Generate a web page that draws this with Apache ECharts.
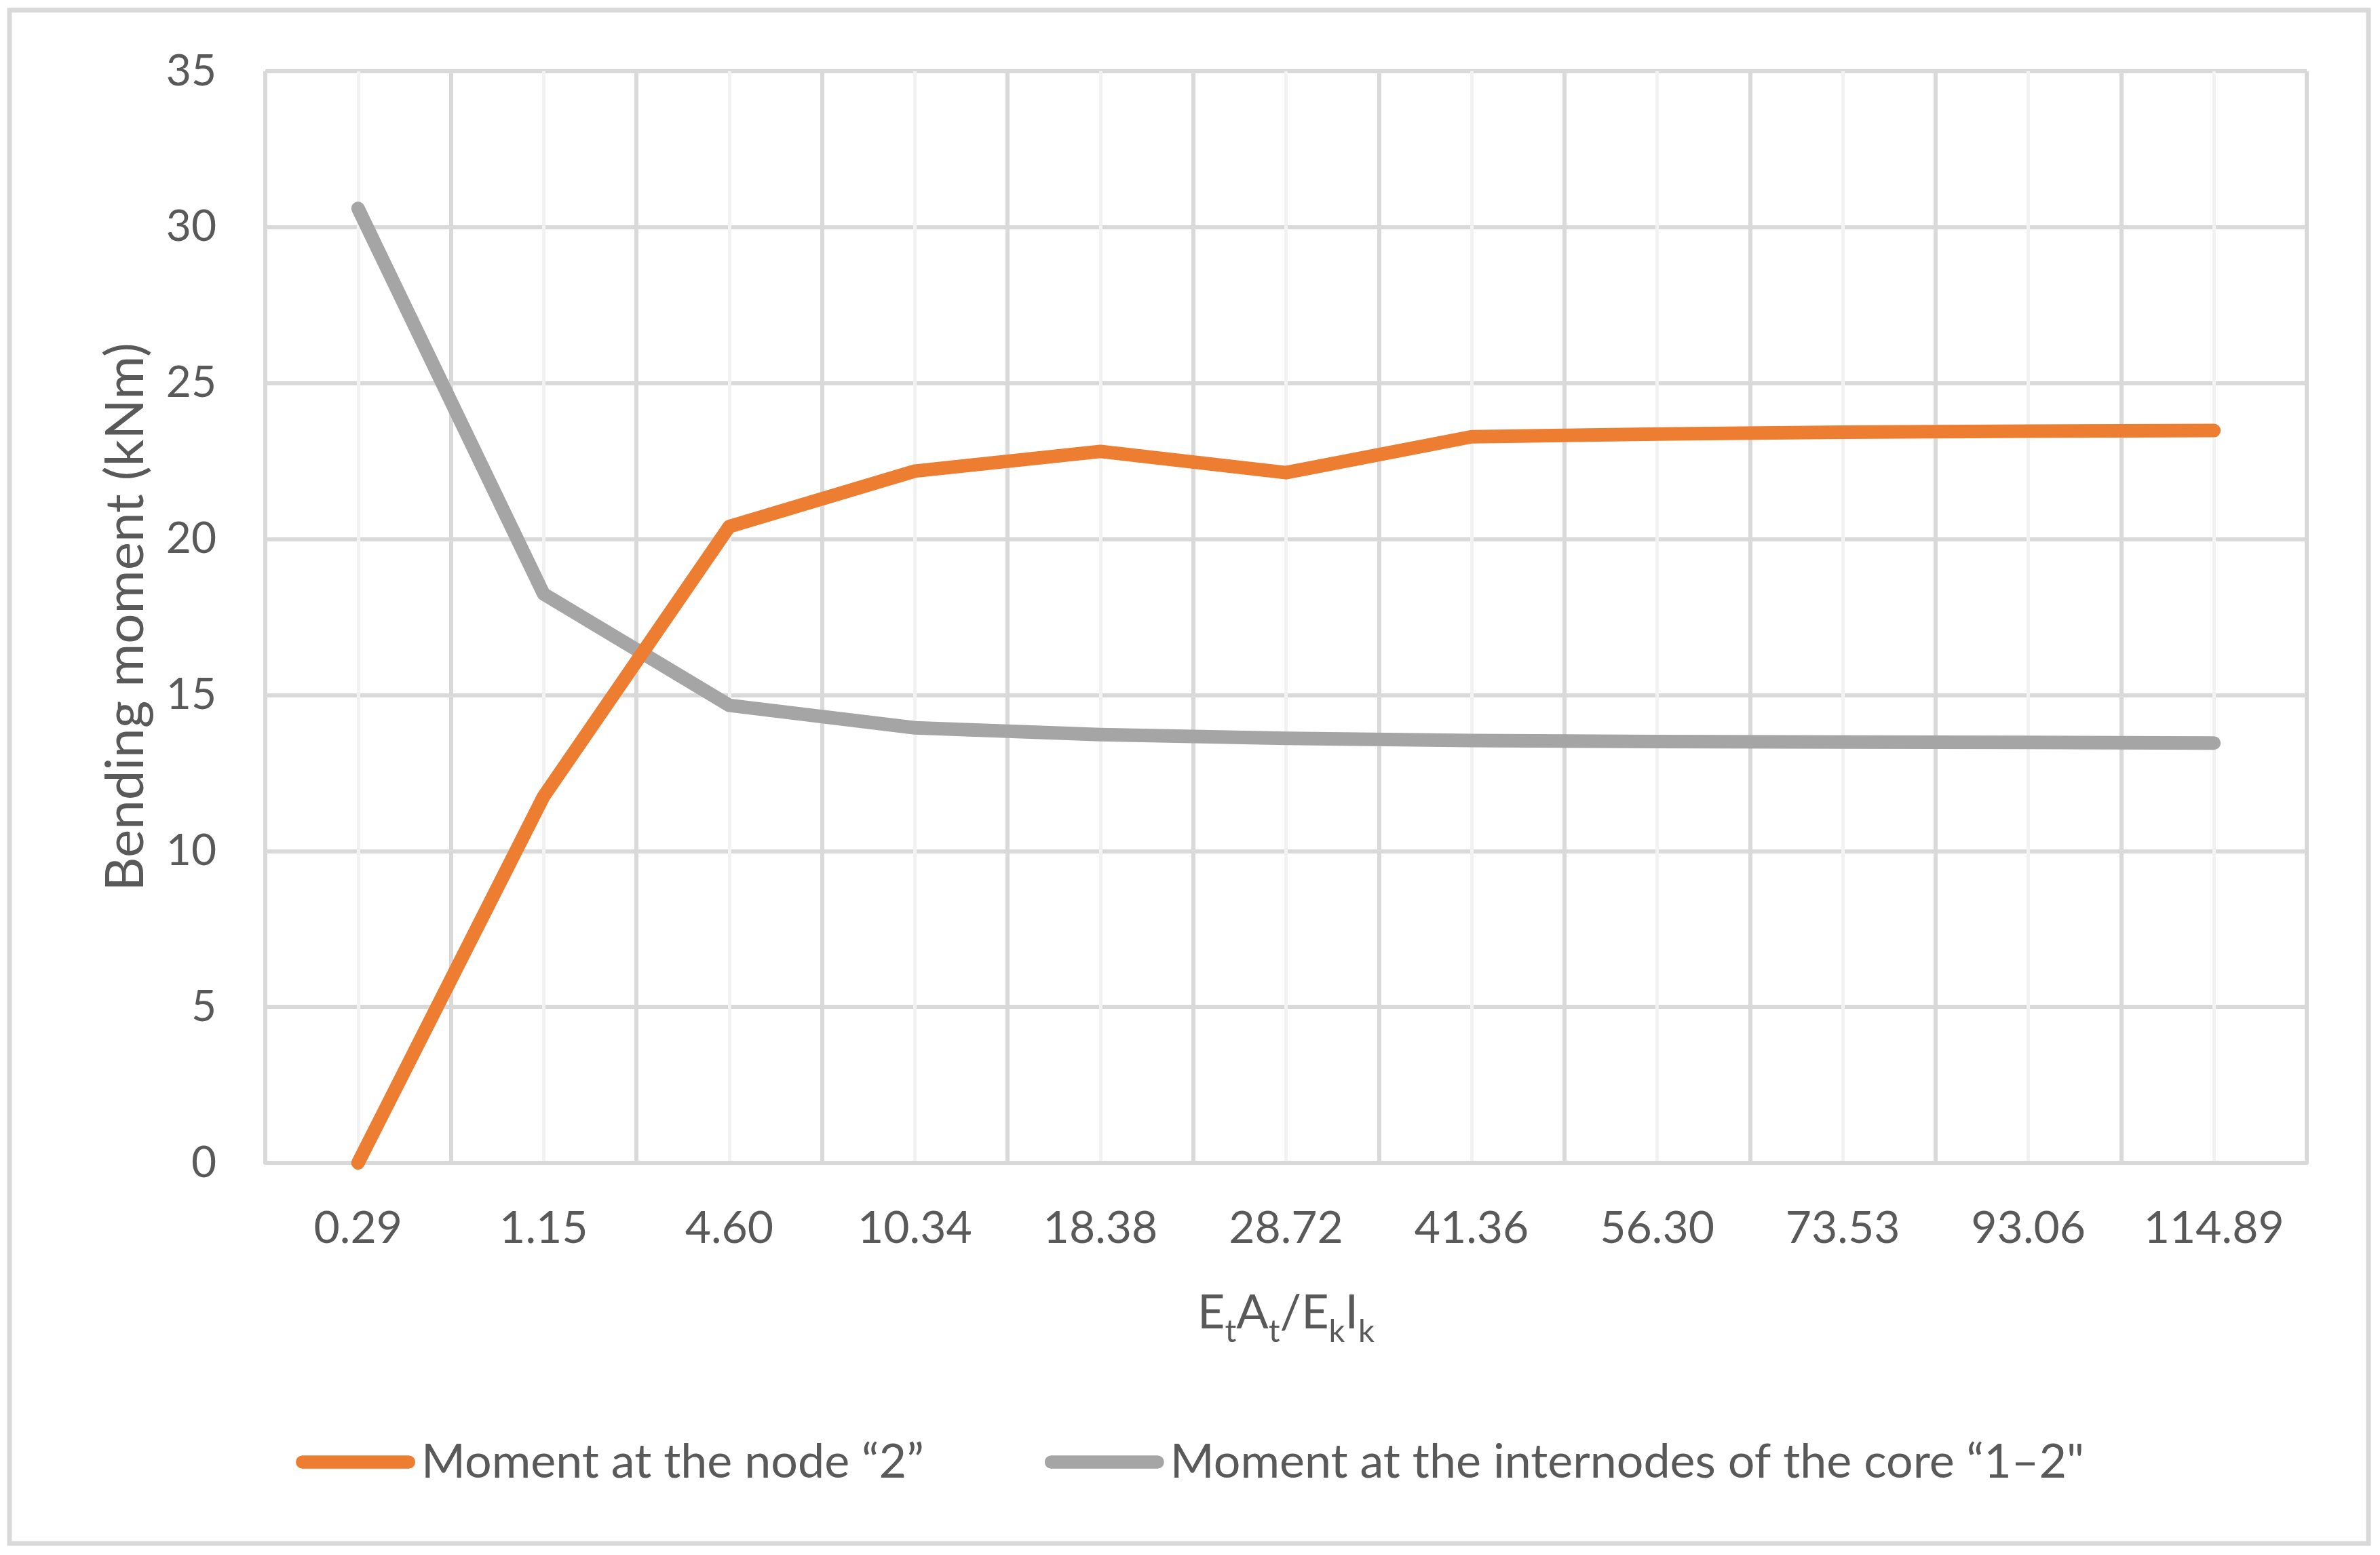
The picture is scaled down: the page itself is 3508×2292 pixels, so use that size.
<!DOCTYPE html>
<html>
<head>
<meta charset="utf-8">
<script src="https://cdn.jsdelivr.net/npm/echarts@6/dist/echarts.min.js"></script>
<style>
html,body{margin:0;padding:0;background:#fff;}
#chart{width:3508px;height:2292px;}
</style>
</head>
<body>
<div id="chart"></div>
<script>
const categories = ['0.29','1.15','4.60','10.34','18.38','28.72','41.36','56.30','73.53','93.06','114.89'];
const momentNode2 = [0, 11.75, 20.4, 22.18, 22.81, 22.13, 23.28, 23.37, 23.43, 23.46, 23.48];
const momentInternodes = [30.6, 18.24, 14.67, 13.95, 13.73, 13.61, 13.54, 13.51, 13.49, 13.48, 13.46];
const seriesNames = ['Moment at the node \u201c2\u201d', 'Moment at the internodes of the core \u201c1\u20132"'];
const yTicks = {min: 0, max: 35, interval: 5};

const FONT = 'Lato';
const TXT = '#595959';
const halfSlots = categories.flatMap(c => [c + '_a', c + '_b']);

const chart = echarts.init(document.getElementById('chart'), null, {renderer: 'canvas'});
chart.setOption({
  backgroundColor: '#ffffff',
  animation: false,
  textStyle: {fontFamily: FONT, color: TXT},
  graphic: [{
    type: 'rect', z: -10,
    shape: {x: 14, y: 15, width: 3477, height: 2260},
    style: {fill: 'none', stroke: '#d9d9d9', lineWidth: 7}
  }],
  grid: {left: 391, right: 108, top: 105, bottom: 578, containLabel: false},
  legend: {
    data: seriesNames,
    left: 'center',
    top: 2115,
    itemWidth: 176,
    itemHeight: 20,
    itemGap: 178,
    icon: 'path://M10,0 L169,0 A10,10 0 0 1 169,20 L10,20 A10,10 0 0 1 10,0 Z',
    textStyle: {fontFamily: FONT, fontSize: 70, color: TXT, padding: [0, 0, 0, 4]}
  },
  xAxis: [{
    type: 'category',
    data: categories,
    boundaryGap: true,
    axisTick: {show: false},
    axisLine: {show: true, lineStyle: {color: '#d9d9d9', width: 6}},
    splitLine: {show: true, interval: 0, lineStyle: {color: '#d9d9d9', width: 6}},
    axisLabel: {fontFamily: FONT, fontSize: 66, color: TXT, margin: 64, interval: 0},
    name: '{b|E}{s|t}{b|A}{s|t}{b|/E}{s|k}{b|I}{s|k}',
    nameLocation: 'middle',
    nameGap: 186,
    nameTextStyle: {
      rich: {
        b: {fontFamily: FONT, fontSize: 70, color: TXT, verticalAlign: 'bottom', padding: [0, 0, 16, 0]},
        s: {fontFamily: FONT, fontSize: 47, color: TXT, verticalAlign: 'bottom'}
      }
    },
    z: 2
  }, {
    type: 'category',
    data: halfSlots,
    boundaryGap: true,
    position: 'bottom',
    axisTick: {show: false},
    axisLine: {show: false},
    axisLabel: {show: false},
    splitLine: {show: true, interval: function (i) { return i % 2 === 1; }, lineStyle: {color: '#f2f2f2', width: 5}},
    z: 1
  }],
  yAxis: {
    type: 'value',
    min: yTicks.min, max: yTicks.max, interval: yTicks.interval,
    axisLine: {show: false},
    axisTick: {show: false},
    splitLine: {show: true, lineStyle: {color: '#d9d9d9', width: 6}},
    axisLabel: {fontFamily: FONT, fontSize: 64, color: TXT, margin: 72},
    name: 'Bending moment (kNm)',
    nameLocation: 'middle',
    nameGap: 166,
    nameTextStyle: {fontFamily: FONT, fontSize: 78, color: TXT}
  },
  series: [{
    name: seriesNames[0],
    type: 'line',
    data: momentNode2,
    xAxisIndex: 0,
    symbol: 'none',
    color: '#ED7D31',
    lineStyle: {color: '#ED7D31', width: 20, cap: 'round', join: 'round'},
    z: 5
  }, {
    name: seriesNames[1],
    type: 'line',
    data: momentInternodes,
    xAxisIndex: 0,
    symbol: 'none',
    color: '#A5A5A5',
    lineStyle: {color: '#A5A5A5', width: 20, cap: 'round', join: 'round'},
    z: 4
  }]
});
</script>
</body>
</html>
